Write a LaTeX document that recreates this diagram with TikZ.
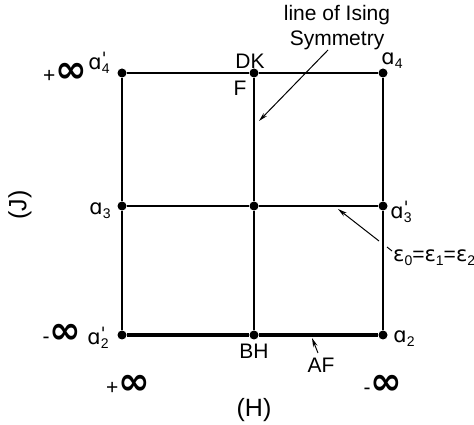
\documentclass[tikz,border=0pt]{standalone}
\usepackage{fontspec}
\setmainfont{Liberation Sans}
\newfontfamily\dv{DejaVu Sans}
\usetikzlibrary{arrows.meta}
\newcommand{\sbs}[1]{\raisebox{-4pt}{\fontsize{14}{14}\selectfont #1}}
\newcommand{\av}[2]{{\dv ɑ}\rlap{\raisebox{5pt}{\fontsize{17}{17}\selectfont\dv\char"27}}\sbs{#2}}
\newcommand{\ap}[1]{{\dv ɑ}\sbs{#1}}
\newcommand{\inff}{{\dv\bfseries\fontsize{38}{38}\selectfont ∞}}
\begin{document}
\begin{tikzpicture}[x=1pt,y=1pt,
  lab/.style={inner sep=0pt,font=\fontsize{21}{25}\selectfont},
  big/.style={inner sep=0pt,font=\fontsize{25}{28}\selectfont},
  dot/.style={circle,fill=black,inner sep=0pt,minimum size=9pt},
  grid/.style={line width=1.4pt},
  arr/.style={line width=1pt,-{Stealth[length=9pt,width=4.5pt]}}]
\useasboundingbox (0,0) rectangle (474,425);
% grid points
\node[dot] (TL) at (122,352) {};
\node[dot] (TM) at (254,352) {};
\node[dot] (TR) at (383,352) {};
\node[dot] (ML) at (122,219) {};
\node[dot] (MM) at (254,219) {};
\node[dot] (MR) at (383,219) {};
\node[dot] (BL) at (122,90) {};
\node[dot] (BM) at (254,90) {};
\node[dot] (BR) at (383,90) {};
% lines
\draw[line width=2.2pt] (TL) -- (TM) -- (TR);
\draw[grid] (ML) -- (MM) -- (MR);
\draw[line width=4pt] (BL) -- (BM) -- (BR);
\draw[grid] (TL) -- (ML) -- (BL);
\draw[grid] (TM) -- (MM) -- (BM);
\draw[grid] (TR) -- (MR) -- (BR);
% labels
\node[lab] (pinfT) at (65,352) {+\inff};
\node[lab] (a4p) at (99,362) {\av{}{4}};
\node[lab] (DK) at (250,364) {DK};
\node[lab] (F) at (240,337) {F};
\node[lab,align=center] (ising) at (337,397) {line of Ising\\Symmetry};
\node[lab] (a4) at (392,364) {\ap{4}};
\node[lab] (a3) at (100,214) {\ap{3}};
\node[big,rotate=90] (J) at (20,220) {(J)};
\node[lab] (a3p) at (401,213) {\av{}{3}};
\node[lab,anchor=west] (eps) at (393,167) {{\dv ε}\sbs{0}{=}{\dv ε}\sbs{1}{=}{\dv ε}\sbs{2}};
\node[lab] (minfL) at (62,91) {-\inff};
\node[lab] (a2p) at (98,87) {\av{}{2}};
\node[lab] (pinfB) at (128,40) {+\inff};
\node[lab] (BH) at (254,74) {BH};
\node[lab] (AF) at (321,60) {AF};
\node[lab] (a2) at (404,86) {\ap{2}};
\node[lab] (minfR) at (383,40) {-\inff};
\node[big] (H) at (254,15) {(H)};
% annotation arrows
\coordinate (isA) at (328,375);
\coordinate (isB) at (259,304);
\draw[arr] (isA) -- (isB);
\coordinate (e1) at (392,174);
\coordinate (e2) at (387,178);
\coordinate (e3) at (379,184);
\coordinate (e4) at (338,216);
\draw[line width=1pt] (e1) -- (e2);
\draw[arr] (e3) -- (e4);
\coordinate (af1) at (318,72);
\coordinate (af2) at (312,87);
\draw[arr] (af1) -- (af2);
\end{tikzpicture}
\end{document}
